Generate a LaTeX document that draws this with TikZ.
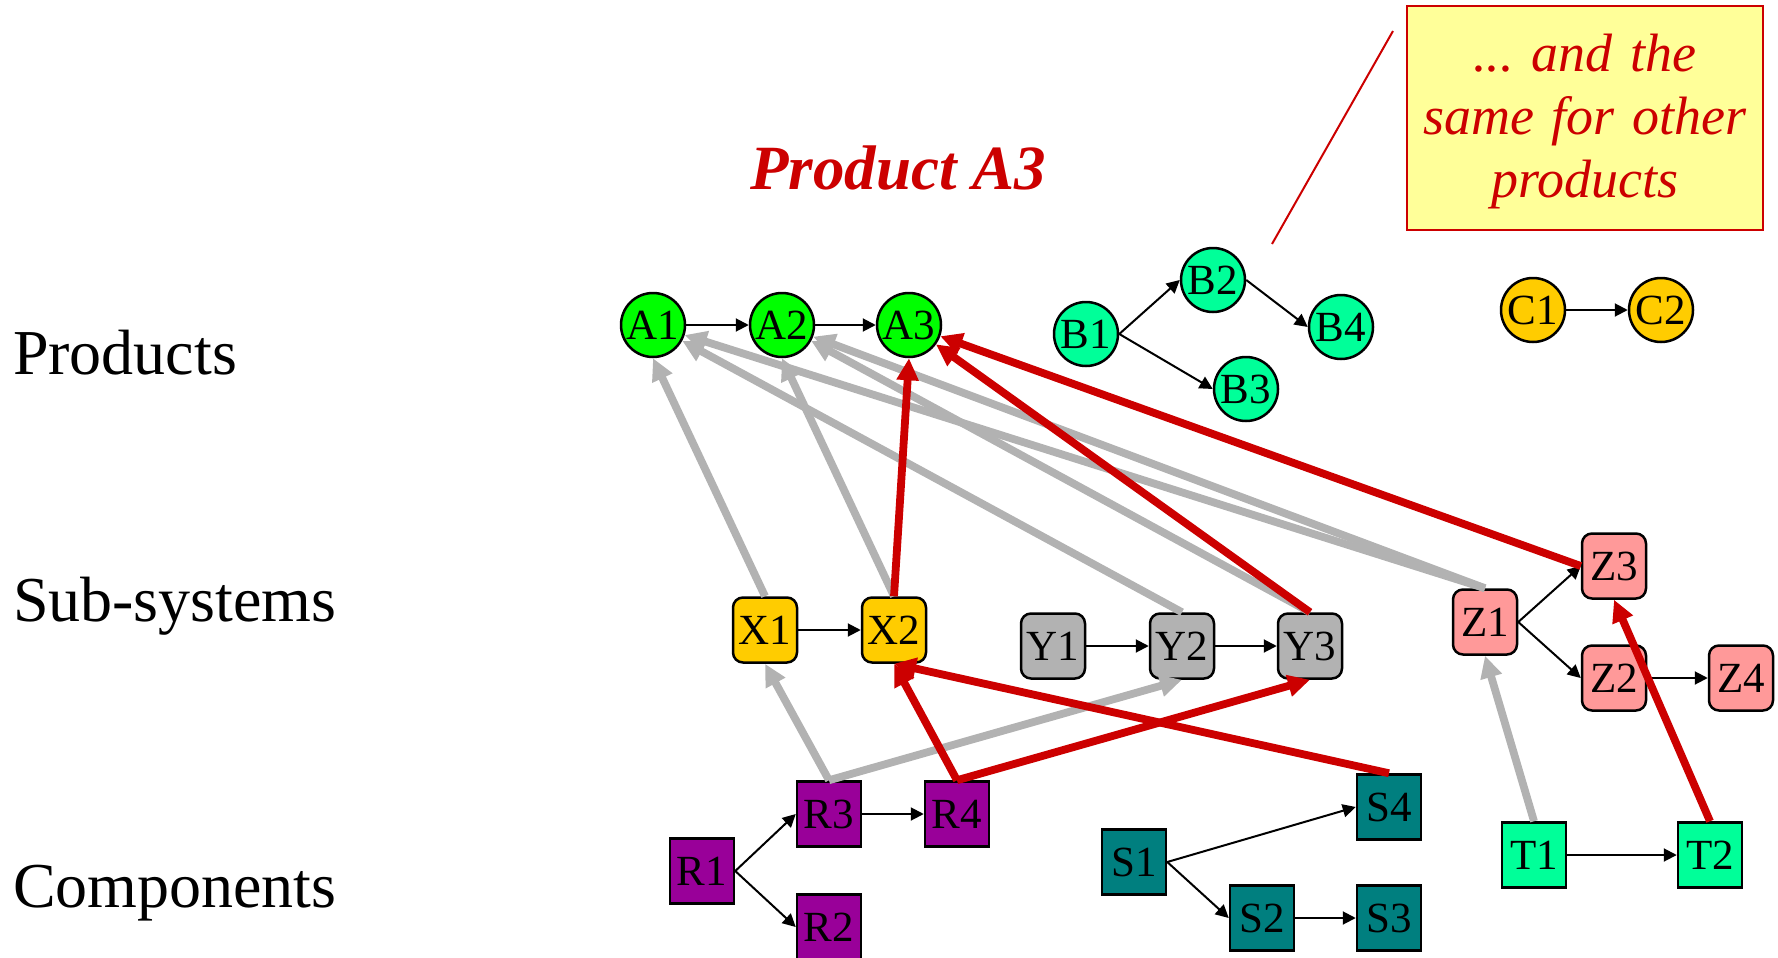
\documentclass[tikz,border=0pt]{standalone}
\usepackage{fontspec}
\setmainfont{Liberation Serif}
\usetikzlibrary{arrows.meta}

\definecolor{prodgreen}{HTML}{00FF00}
\definecolor{mint}{HTML}{00FF99}
\definecolor{gold}{HTML}{FFCC00}
\definecolor{lgray}{HTML}{B2B2B2}
\definecolor{salmon}{HTML}{FF9999}
\definecolor{purp}{HTML}{990099}
\definecolor{tealc}{HTML}{007F7F}
\definecolor{darkred}{HTML}{CC0000}
\definecolor{paleyellow}{HTML}{FFFF99}

\tikzset{
  nodefont/.style={font=\fontsize{21.5}{24}\selectfont},
  prod/.style={circle,draw,line width=1.25pt,minimum size=32pt,inner sep=0pt,nodefont},
  sub/.style={rectangle,rounded corners=5pt,draw,line width=1.25pt,minimum width=32pt,minimum height=32.5pt,inner sep=0pt,nodefont},
  comp/.style={rectangle,draw,line width=1.25pt,minimum width=32pt,minimum height=32.5pt,inner sep=0pt,nodefont},
  level/.style={anchor=base west,font=\fontsize{32}{38}\selectfont},
  dep/.style={-{Triangle[length=6.5pt,width=6.5pt]},line width=1pt},
  used/.style={-{Triangle[length=11pt,width=10.5pt]},line width=3.9pt,draw=lgray},
  hit/.style={-{Triangle[length=11pt,width=10.5pt]},line width=3.9pt,draw=darkred},
}

\begin{document}
\begin{tikzpicture}[x=0.5pt,y=-0.5pt]
      \useasboundingbox (0,0) rectangle (1778,958);

      \node[level] (lprod) at (6,374) {Products};
      \node[level] (lsub) at (6,621) {Sub-systems};
      \node[level] (lcomp) at (6,907) {Components};

      \node[anchor=base,text=darkred,font=\fontsize{31.5}{36}\selectfont\bfseries\itshape] (title) at (898,189) {Product A3};

      \node[draw=darkred,fill=paleyellow,line width=1.25pt,minimum width=178pt,minimum height=112pt]
            (note) at (1585,118) {};
      \node[text width=170pt,align=center,text=darkred,font=\fontsize{27}{31.5}\selectfont\itshape]
            (notetext) at (1585,122) {...\ and the\\ same for other\\ products};
      \coordinate (ntop) at (1393,31);
      \coordinate (nbot) at (1272,244);
      \draw[darkred,line width=1pt] (ntop) -- (nbot);

      % products
      \node[prod,fill=prodgreen] (A1) at (653,325) {A1};
      \node[prod,fill=prodgreen] (A2) at (782,325) {A2};
      \node[prod,fill=prodgreen] (A3) at (909,325) {A3};
      \node[prod,fill=mint] (B1) at (1086,334) {B1};
      \node[prod,fill=mint] (B2) at (1213,280) {B2};
      \node[prod,fill=mint] (B3) at (1246,389) {B3};
      \node[prod,fill=mint] (B4) at (1341,327) {B4};
      \node[prod,fill=gold] (C1) at (1533,310) {C1};
      \node[prod,fill=gold] (C2) at (1661,310) {C2};

      % sub-systems
      \node[sub,fill=gold] (X1) at (765,630) {X1};
      \node[sub,fill=gold] (X2) at (894,630) {X2};
      \node[sub,fill=lgray] (Y1) at (1053,646) {Y1};
      \node[sub,fill=lgray] (Y2) at (1182,646) {Y2};
      \node[sub,fill=lgray] (Y3) at (1310,646) {Y3};
      \node[sub,fill=salmon] (Z1) at (1485,622) {Z1};
      \node[sub,fill=salmon] (Z3) at (1614,566) {Z3};
      \node[sub,fill=salmon] (Z2) at (1614,678) {Z2};
      \node[sub,fill=salmon] (Z4) at (1741,678) {Z4};

      % components
      \node[comp,fill=purp] (R1) at (702,871) {R1};
      \node[comp,fill=purp] (R3) at (829,814) {R3};
      \node[comp,fill=purp] (R4) at (957,814) {R4};
      \node[comp,fill=purp] (R2) at (829,927) {R2};
      \node[comp,fill=tealc] (S1) at (1134,862) {S1};
      \node[comp,fill=tealc] (S4) at (1389,807) {S4};
      \node[comp,fill=tealc] (S2) at (1262,918) {S2};
      \node[comp,fill=tealc] (S3) at (1389,918) {S3};
      \node[comp,fill=mint] (T1) at (1534,855) {T1};
      \node[comp,fill=mint] (T2) at (1710,855) {T2};

      \draw[dep] (A1) -- (A2);
      \draw[dep] (A2) -- (A3);
      \draw[dep] (B1.east) -- (B2.west);
      \draw[dep] (B1.east) -- (B3.west);
      \draw[dep] (B2.east) -- (B4.west);
      \draw[dep] (C1) -- (C2);
      \draw[dep] (X1) -- (X2);
      \draw[dep] (Y1) -- (Y2);
      \draw[dep] (Y2) -- (Y3);
      \draw[dep] (Z1.east) -- (Z3.west);
      \draw[dep] (Z1.east) -- (Z2.west);
      \draw[dep] (Z2) -- (Z4);
      \draw[dep] (R1.east) -- (R3.west);
      \draw[dep] (R1.east) -- (R2.west);
      \draw[dep] (R3) -- (R4);
      \draw[dep] (S1.east) -- (S4.west);
      \draw[dep] (S1.east) -- (S2.west);
      \draw[dep] (S2) -- (S3);
      \draw[dep] (T1) -- (T2);

      \draw[used] (X1.north) -- (A1.south);
      \draw[used] (X2.north) -- (A2.south);
      \draw[used] (Y2.north) -- (A1);
      \draw[used] (Y3.north) -- (A2);
      \draw[used] (Z1.north) -- (A1);
      \draw[used] (Z1.north) -- (A2);
      \draw[used] (R3.north) -- (X1.south);
      \draw[used] (R3.north) -- (Y2.south);
      \draw[used] (T1.north) -- (Z1.south);

      \draw[hit] (X2.north) -- (A3.south);
      \draw[hit] (Y3.north) -- (A3);
      \draw[hit] (Z3.west) -- (A3);
      \draw[hit] (R4.north) -- (X2.south);
      \draw[hit] (R4.north) -- (Y3.south);
      \draw[hit] (S4.north) -- (X2.south);
      \draw[hit] (T2.north) -- (Z3.south);

\end{tikzpicture}
\end{document}
